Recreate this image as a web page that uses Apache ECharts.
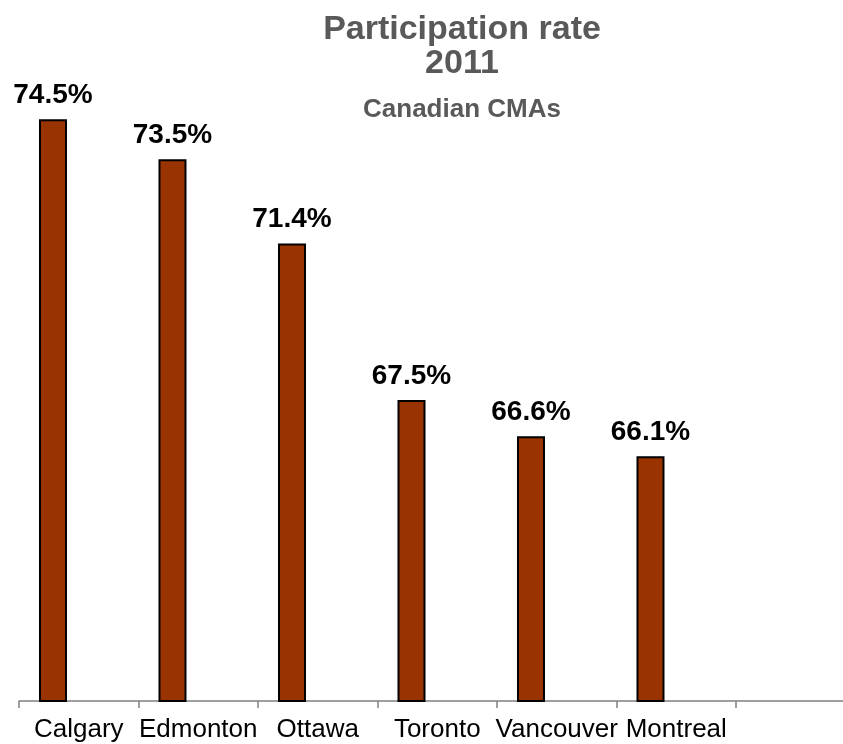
<!DOCTYPE html>
<html>
<head>
<meta charset="utf-8">
<script src="https://cdn.jsdelivr.net/npm/echarts@6/dist/echarts.min.js"></script>
<style>
  html, body { margin: 0; padding: 0; background: #fff; }
  #chart { width: 843px; height: 744px; }
</style>
</head>
<body>
<div id="chart"></div>
<script>
// CMAs, last slot is empty in the original
var cities = ['Calgary', 'Edmonton', 'Ottawa', 'Toronto', 'Vancouver', 'Montreal', '']
var rates = [74.5, 73.5, 71.4, 67.5, 66.6, 66.1, null]
var yMin = 60
var yMax = 76

var font = 'Liberation Sans, Arial, sans-serif'
var myChart = echarts.init(document.getElementById('chart'))

var option = {
  animation: false,
  title: {
    text: 'Participation rate\n2011',
    subtext: 'Canadian CMAs',
    left: 457,
    textAlign: 'center',
    top: 8,
    itemGap: 16,
    textStyle: {
      fontFamily: font,
      fontWeight: 'bold',
      fontSize: 34,
      lineHeight: 34,
      color: '#595959'
    },
    subtextStyle: {
      fontFamily: font,
      fontWeight: 'bold',
      fontSize: 26,
      color: '#595959'
    }
  },
  grid: {
    left: 19,
    width: 836.5,
    top: 59,
    bottom: 43,
    outerBoundsMode: 'none'
  },
  xAxis: {
    type: 'category',
    data: cities,
    axisLine: {
      lineStyle: { color: '#808080', width: 1.5 }
    },
    axisTick: {
      show: true,
      length: 7,
      lineStyle: { color: '#808080', width: 1.5 }
    },
    axisLabel: {
      color: '#000',
      fontFamily: font,
      fontSize: 26,
      margin: 16,
      interval: 0
    }
  },
  yAxis: {
    type: 'value',
    min: yMin,
    max: yMax,
    show: false
  },
  series: [
    {
      type: 'bar',
      data: rates,
      barWidth: 28,
      barGap: '84%',
      itemStyle: {
        color: '#993300',
        borderColor: '#000',
        borderWidth: 2
      },
      label: {
        show: true,
        position: 'top',
        distance: 10,
        color: '#000',
        fontFamily: font,
        fontWeight: 'bold',
        fontSize: 28,
        formatter: function (p) { return p.value.toFixed(1) + '%' }
      }
    },
    {
      // empty partner series, keeps bars left of category centre
      type: 'bar',
      data: [],
      barWidth: 28
    }
  ]
}

myChart.setOption(option)
</script>
</body>
</html>
